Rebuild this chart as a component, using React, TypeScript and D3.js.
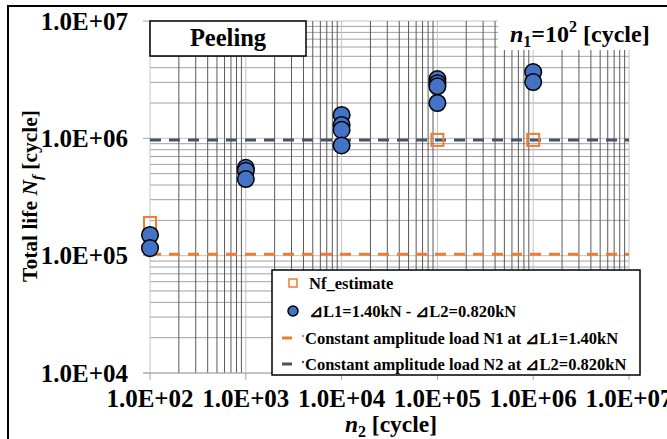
import React from 'react';
import * as d3 from 'd3';

// n2 positions of the experimental points and their total lives
const pointN2 = [1e2, 1e2, 1e3, 1e3, 1e3, 1e4, 1e4, 1e4, 1e4, 1e5, 1e5, 1e5, 1e5, 1e6, 1e6];
const pointNf = [1.5e5, 1.16e5, 5.6e5, 5.3e5, 4.5e5, 1.58e6, 1.3e6, 1.18e6, 8.7e5, 3.2e6, 2.95e6, 2.78e6, 2.0e6, 3.67e6, 3.02e6];

// Nf_estimate
const estN2 = [1e2, 1e5, 1e6];
const estNf = [1.9e5, 9.7e5, 9.7e5];

// constant amplitude lives
const constN1 = 1.03e5;
const constN2 = 9.7e5;

const xMajor = [1e2, 1e3, 1e4, 1e5, 1e6, 1e7];
const yMajor = [1e4, 1e5, 1e6, 1e7];

const legendLabels = [
  'Nf_estimate',
  '⊿L1=1.40kN - ⊿L2=0.820kN',
  'Constant amplitude load N1 at ⊿L1=1.40kN',
  'Constant amplitude load N2 at ⊿L2=0.820kN',
];

const FONT = '"Liberation Serif", "Times New Roman", serif';
const ORANGE = '#ED7D31';
const BLUE = '#4472C4';
const SLATE = '#44546A';

const fmt = (v: number) => '1.0E+' + String(Math.round(Math.log10(v))).padStart(2, '0');

export default function App() {
  const left = 150, right = 629, top = 21, bottom = 373;
  const x = d3.scaleLog().domain([1e2, 1e7]).range([left, right]);
  const y = d3.scaleLog().domain([1e4, 1e7]).range([bottom, top]);

  const xGrid = x.ticks();
  const yGrid = y.ticks();
  const isMajor = (v: number) => Math.abs(Math.log10(v) - Math.round(Math.log10(v))) < 1e-9;

  const lg = { x: 272, y: 270, w: 368, h: 105 };
  const rows = [283, 311, 338, 364];

  return (
    <svg width={667} height={439} style={{ position: 'absolute', left: 0, top: 0, background: '#fff' }}
         fontFamily={FONT} fontWeight="bold">
      <rect x={0} y={0} width={667} height={439} fill="#fff" />
      <rect x={8} y={6} width={700} height={500} fill="none" stroke="#000" strokeWidth={2} />

      {/* grid */}
      {yGrid.map((v, i) => (
        <line key={'h' + i} x1={left} x2={right} y1={y(v)} y2={y(v)}
              stroke={isMajor(v) ? '#c4c4c4' : '#a0a0a0'} strokeWidth={1} />
      ))}
      {xGrid.map((v, i) => (
        <line key={'v' + i} x1={x(v)} x2={x(v)} y1={top} y2={bottom}
              stroke={isMajor(v) ? '#c4c4c4' : '#5a5a5a'} strokeWidth={1} />
      ))}

      {/* axis ticks */}
      {yMajor.map((v, i) => (
        <g key={'yt' + i}>
          <line x1={143} x2={left} y1={y(v)} y2={y(v)} stroke="#a6a6a6" />
          <text x={128} y={y(v)} dy="0.35em" textAnchor="end" fontSize={25}>{fmt(v)}</text>
        </g>
      ))}
      {xMajor.map((v, i) => (
        <g key={'xt' + i}>
          <line x1={x(v)} x2={x(v)} y1={bottom} y2={380} stroke="#a6a6a6" />
          <text x={x(v)} y={398} dy="0.35em" textAnchor="middle" fontSize={25}>{fmt(v)}</text>
        </g>
      ))}
      <line x1={143} x2={right} y1={bottom} y2={bottom} stroke="#a6a6a6" />

      {/* constant amplitude lines */}
      <line x1={left} x2={right} y1={y(constN1)} y2={y(constN1)} stroke={ORANGE} strokeWidth={3} strokeDasharray="11,8" />
      <line x1={left} x2={right} y1={y(constN2)} y2={y(constN2)} stroke={SLATE} strokeWidth={3} strokeDasharray="11,8" />

      {/* estimates */}
      {estN2.map((v, i) => (
        <rect key={'e' + i} x={x(v) - 6} y={y(estNf[i]) - 6} width={12} height={12}
              fill="none" stroke={ORANGE} strokeWidth={2} />
      ))}

      {/* experiments */}
      {pointN2.map((v, i) => (
        <circle key={'p' + i} cx={x(v)} cy={y(pointNf[i])} r={8.3}
                fill={BLUE} stroke="#000" strokeWidth={1.5} />
      ))}

      {/* Peeling box */}
      <rect x={150} y={21} width={156} height={35} fill="#fff" stroke="#000" strokeWidth={1.5} />
      <text x={228} y={46} textAnchor="middle" fontSize={24.5}>Peeling</text>

      {/* n1 label */}
      <rect x={498} y={12} width={165} height={38} fill="#fff" />
      <text x={510} y={42} fontSize={24}>
        <tspan fontStyle="italic">n</tspan>
        <tspan fontSize={16} dy={5}>1</tspan>
        <tspan dy={-5}>=10</tspan>
        <tspan fontSize={16} dy={-10}>2</tspan>
        <tspan dy={10}> [cycle]</tspan>
      </text>

      {/* axis titles */}
      <text transform="translate(37,196) rotate(-90)" textAnchor="middle" fontSize={21.5}>
        Total life <tspan fontStyle="italic">N</tspan>
        <tspan fontStyle="italic" fontSize={15} dy={5}>f</tspan>
        <tspan dy={-5}> [cycle]</tspan>
      </text>
      <text x={391} y={432} textAnchor="middle" fontSize={23.5}>
        <tspan fontStyle="italic">n</tspan>
        <tspan fontSize={16} dy={5}>2</tspan>
        <tspan dy={-5}> [cycle]</tspan>
      </text>

      {/* legend */}
      <rect x={lg.x} y={lg.y} width={lg.w} height={lg.h} fill="#fff" stroke="#000" strokeWidth={1.5} />
      <rect x={289} y={rows[0] - 4} width={8} height={8} fill="none" stroke={ORANGE} strokeWidth={1.5} />
      <circle cx={293} cy={rows[1]} r={5} fill={BLUE} stroke="#000" strokeWidth={1.5} />
      <line x1={282} x2={292} y1={rows[2]} y2={rows[2]} stroke={ORANGE} strokeWidth={3} />
      <circle cx={303} cy={rows[2] - 2} r={1.2} fill={ORANGE} />
      <line x1={282} x2={292} y1={rows[3]} y2={rows[3]} stroke={SLATE} strokeWidth={3} />
      <circle cx={303} cy={rows[3] - 2} r={1.2} fill={SLATE} />
      {legendLabels.map((t, i) => (
        <text key={'l' + i} x={i < 2 ? 309 : 305} y={rows[i]} dy="0.35em" fontSize={16.5}>{t}</text>
      ))}
    </svg>
  );
}
